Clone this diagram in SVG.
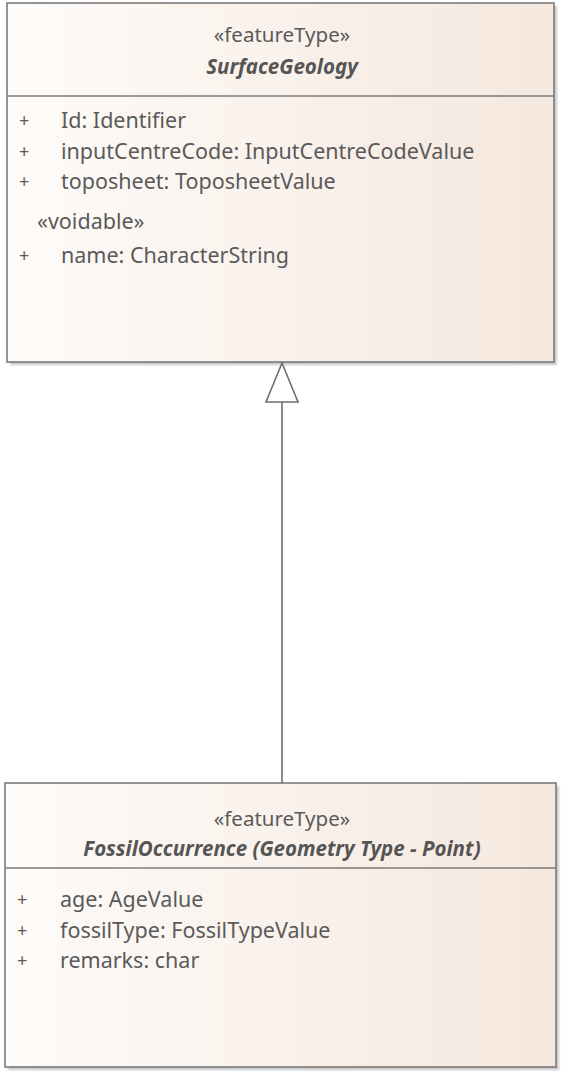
<svg xmlns="http://www.w3.org/2000/svg" width="564" height="1074" viewBox="0 0 564 1074">
  <defs>
    <linearGradient id="classFill" x1="0" y1="0" x2="1" y2="0">
      <stop offset="0" stop-color="#fefbf9"/>
      <stop offset="1" stop-color="#f5e8de"/>
    </linearGradient>
    <filter id="shadow" x="-5%" y="-5%" width="110%" height="110%">
      <feGaussianBlur stdDeviation="1.2"/>
    </filter>
  </defs>
  <style>
    .shadow { fill: #9a9a9a; opacity: 0.55; filter: url(#shadow); }
    .box { fill: url(#classFill); stroke: #7b7b7b; stroke-width: 1.6; }
    .sep { stroke: #7b7b7b; stroke-width: 1.4; }
    .stereo { font-family: "Noto Sans", "Open Sans", sans-serif; font-size: 20.5px; fill: #5a5a5a; text-anchor: middle; }
    .name { font-family: "Noto Sans", "Open Sans", sans-serif; font-size: 20.5px; font-weight: bold; font-style: italic; fill: #555555; text-anchor: middle; }
    .attr { font-family: "Noto Sans", "Open Sans", sans-serif; font-size: 21.5px; fill: #5a5a5a; }
    .plus { font-family: "Noto Sans", "Open Sans", sans-serif; font-size: 18px; fill: #5a5a5a; }
    .edge { stroke: #6e6e6e; stroke-width: 1.6; fill: none; }
    .head { stroke: #6e6e6e; stroke-width: 1.6; fill: #ffffff; }
  </style>

  <!-- SurfaceGeology class -->
  <g id="SurfaceGeology">
    <rect class="shadow" x="10" y="6" width="547" height="359"/>
    <rect class="box" x="7" y="3" width="547" height="359"/>
    <line class="sep" x1="7" y1="96" x2="554" y2="96"/>
    <text class="stereo" x="282" y="42">«featureType»</text>
    <text class="name" x="282" y="74">SurfaceGeology</text>
    <text class="plus" x="19" y="127">+</text>
    <text class="attr" x="61" y="128">Id: Identifier</text>
    <text class="plus" x="19" y="158">+</text>
    <text class="attr" x="61" y="159">inputCentreCode: InputCentreCodeValue</text>
    <text class="plus" x="19" y="188">+</text>
    <text class="attr" x="61" y="189">toposheet: ToposheetValue</text>
    <text class="attr" x="37" y="229">«voidable»</text>
    <text class="plus" x="19" y="262">+</text>
    <text class="attr" x="61" y="263">name: CharacterString</text>
  </g>

  <!-- FossilOccurrence class -->
  <g id="FossilOccurrence">
    <rect class="shadow" x="8" y="786" width="551" height="284"/>
    <rect class="box" x="5" y="783" width="551" height="284"/>
    <line class="sep" x1="5" y1="868" x2="556" y2="868"/>
    <text class="stereo" x="282" y="826">«featureType»</text>
    <text class="name" x="282" y="856">FossilOccurrence (Geometry Type - Point)</text>
    <text class="plus" x="17" y="906">+</text>
    <text class="attr" x="60" y="907">age: AgeValue</text>
    <text class="plus" x="17" y="937">+</text>
    <text class="attr" x="60" y="938">fossilType: FossilTypeValue</text>
    <text class="plus" x="17" y="967">+</text>
    <text class="attr" x="60" y="968">remarks: char</text>
  </g>

  <!-- Generalization: FossilOccurrence to SurfaceGeology -->
  <g id="connectors">
    <line class="edge" x1="282" y1="783" x2="282" y2="402"/>
    <polygon class="head" points="282,363 266,402 298,402"/>
  </g>
</svg>
